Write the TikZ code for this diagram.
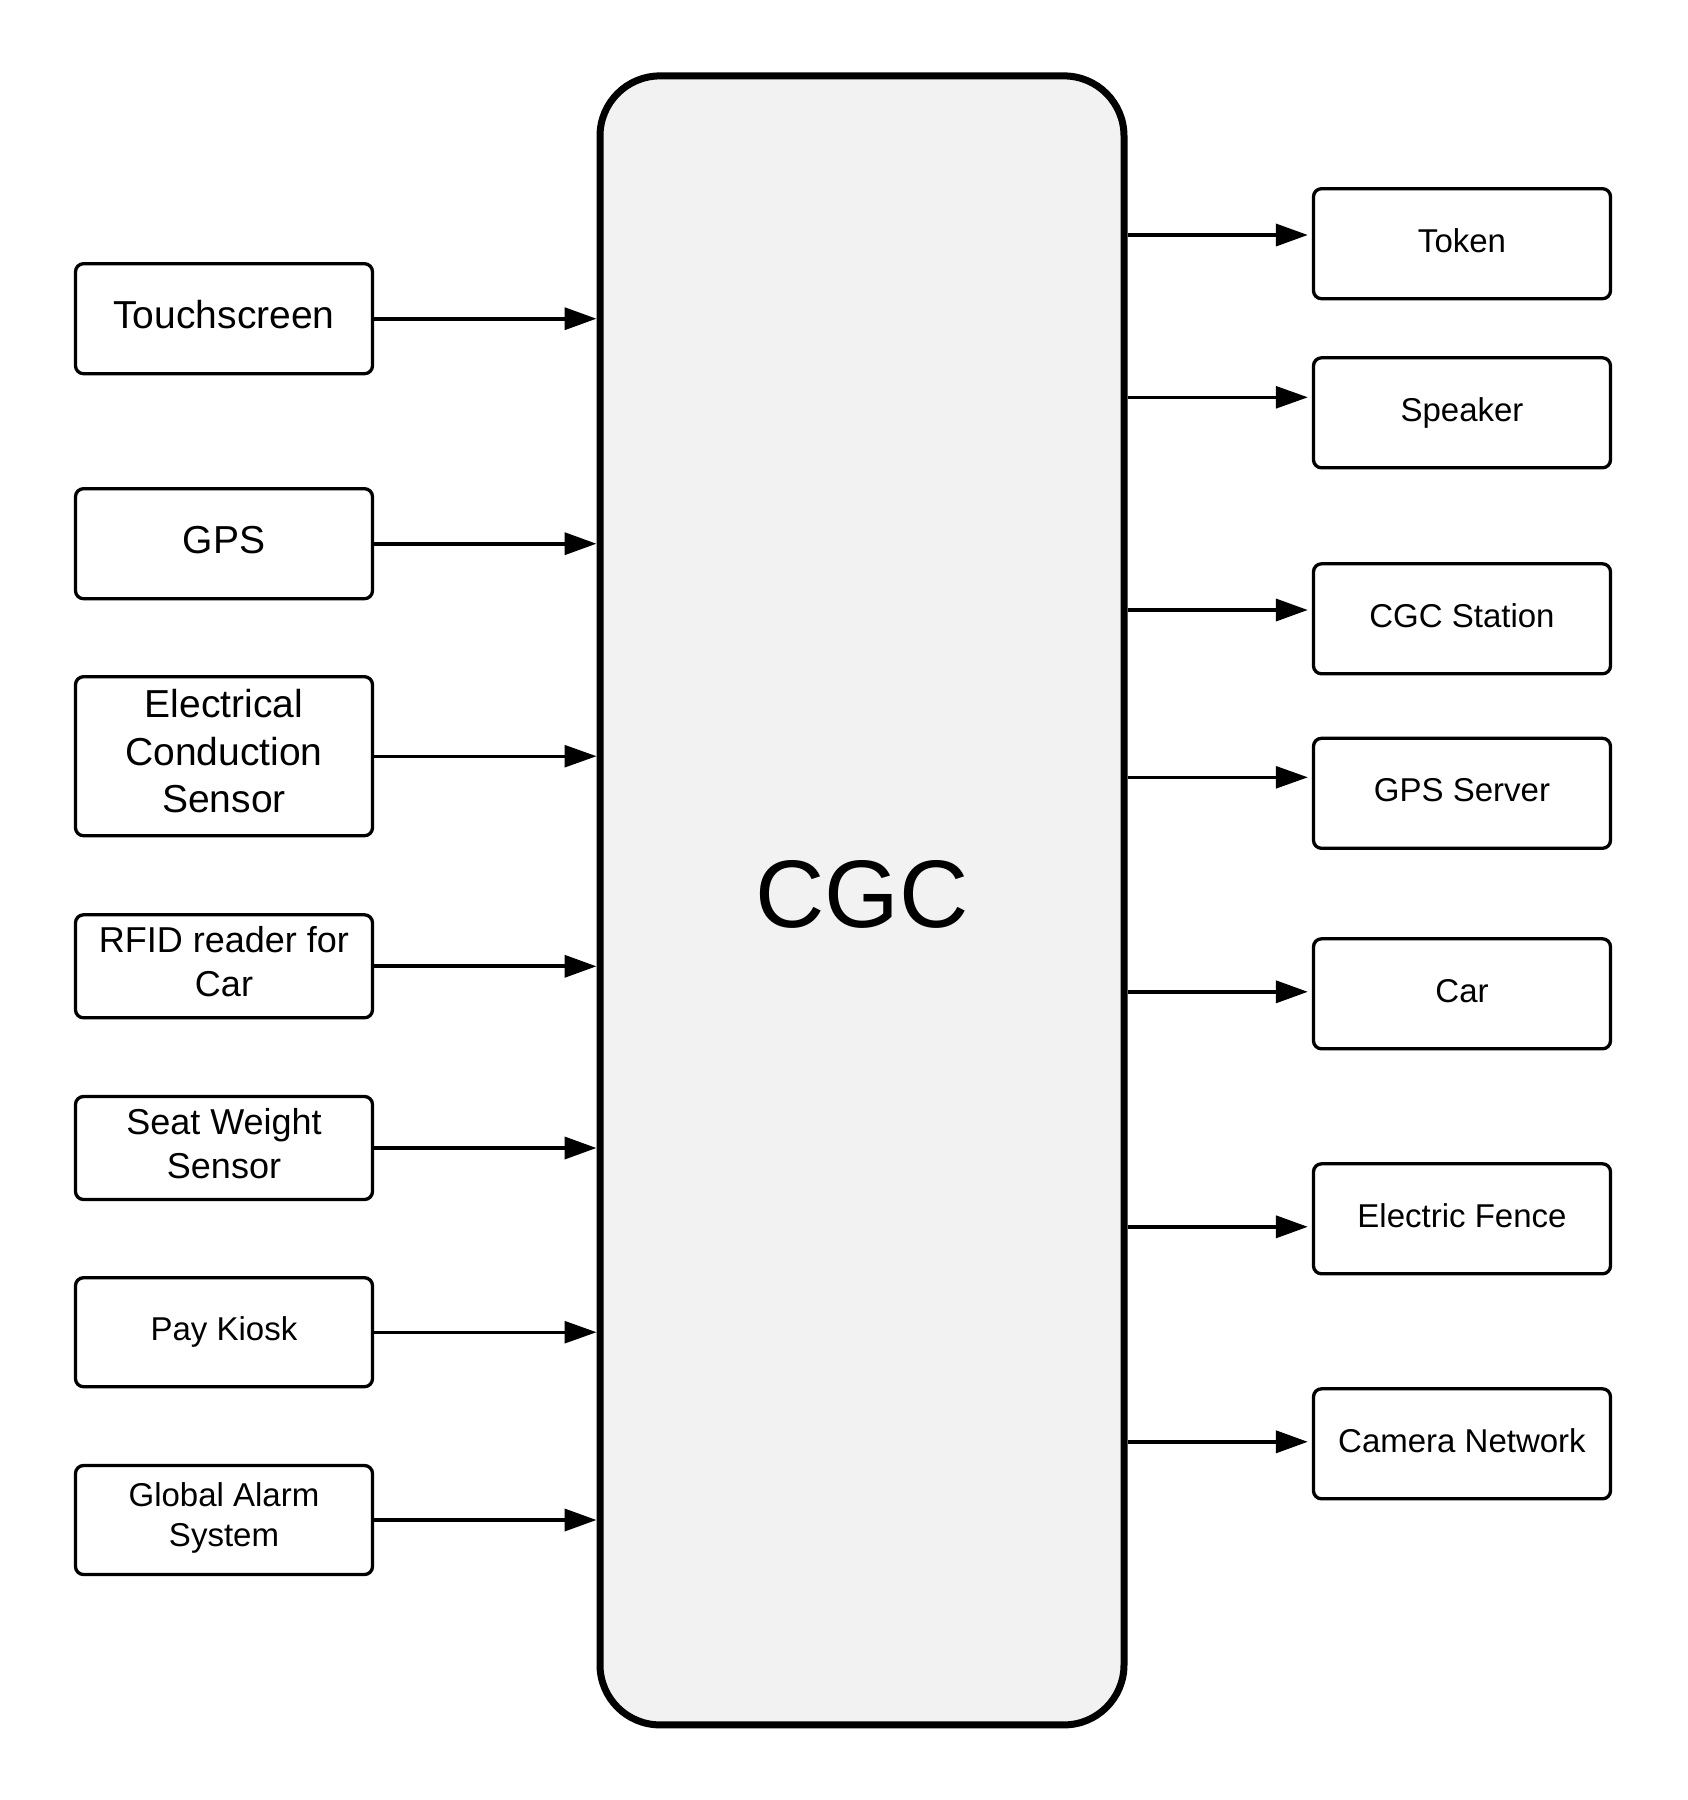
\documentclass[tikz,border=0pt]{standalone}
\usepackage{fontspec}
\setmainfont{Liberation Sans}
\usepackage{xcolor}
\usetikzlibrary{arrows.meta}
\definecolor{corefillc}{HTML}{F2F2F2}
\colorlet{corefill}{corefillc}
\tikzstyle{unitbox} = [
    draw=black,
    line width=3.3pt,
    rounded corners=8pt,
    rectangle,
    minimum width=297pt,
    minimum height=110pt,
    inner sep=0pt,
    align=center
    ]
\tikzstyle{bigone} = [font=\fontsize{39}{47.8}\selectfont, text height=29pt, text depth=10pt]
\tikzstyle{bigmany} = [font=\fontsize{39}{47.8}\selectfont]
\tikzstyle{midmany} = [font=\fontsize{36}{44}\selectfont]
\tikzstyle{smallone} = [font=\fontsize{33}{40}\selectfont, text height=25pt, text depth=8pt]
\tikzstyle{smallmany} = [font=\fontsize{33}{40}\selectfont]
\tikzstyle{corebox} = [
    draw=black,
    fill=corefill,
    line width=7pt,
    rounded corners=60pt,
    rectangle,
    minimum width=524pt,
    minimum height=1649pt,
    inner sep=0pt,
    font=\fontsize{96}{110}\selectfont,
    text depth=12.8pt
    ]
\tikzstyle{flow} = [
    line width=3.7pt,
    -{Triangle[length=32pt,width=22pt]}
    ]

\begin{document}
\begin{tikzpicture}[x=1pt,y=-1pt]
\useasboundingbox (0,0) rectangle (1688,1800);

\node[corebox] (core) at (862,900.4) {CGC};

% inputs
\node[unitbox, bigone] (touch) at (224,318.7) {Touchscreen};
\node[unitbox, bigone] (gps) at (224,543.7) {GPS};
\node[unitbox, bigmany, minimum height=159pt, text depth=10.4pt] (econd) at (224,756.2) {Electrical\\Conduction\\Sensor};
\node[unitbox, midmany, minimum height=103pt, text depth=9.2pt] (rfid) at (224,966.3) {RFID reader for\\Car};
\node[unitbox, midmany, minimum height=103pt, text depth=9.2pt] (seat) at (224,1148) {Seat Weight\\Sensor};
\node[unitbox, smallone, minimum height=109pt] (kiosk) at (224,1332.2) {Pay Kiosk};
\node[unitbox, smallmany, minimum height=109pt, text depth=10.4pt] (alarm) at (224,1520) {Global Alarm\\System};

\draw[flow] (touch.east) -- (touch.east -| core.west);
\draw[flow] (gps.east) -- (gps.east -| core.west);
\draw[flow, line width=2.7pt] (econd.east) -- (econd.east -| core.west);
\draw[flow] (rfid.east) -- (rfid.east -| core.west);
\draw[flow] (seat.east) -- (seat.east -| core.west);
\draw[flow, line width=2.9pt] (kiosk.east) -- (kiosk.east -| core.west);
\draw[flow] (alarm.east) -- (alarm.east -| core.west);

% outputs
\node[unitbox, smallone] (token) at (1462,243.7) {Token};
\node[unitbox, smallone] (speaker) at (1462,412.8) {Speaker};
\node[unitbox, smallone] (station) at (1462,618.8) {CGC Station};
\node[unitbox, smallone] (gpsserver) at (1462,793.3) {GPS Server};
\node[unitbox, smallone] (car) at (1462,993.8) {Car};
\node[unitbox, smallone] (fence) at (1462,1218.8) {Electric Fence};
\node[unitbox, smallone] (camera) at (1462,1443.8) {Camera Network};

\coordinate (tokenin) at ([yshift=8.7pt]token.west);
\coordinate (speakerin) at ([yshift=15.5pt]speaker.west);
\coordinate (stationin) at ([yshift=8.8pt]station.west);
\coordinate (gpsserverin) at ([yshift=16pt]gpsserver.west);
\coordinate (carin) at ([yshift=2pt]car.west);
\coordinate (fencein) at ([yshift=-8pt]fence.west);
\coordinate (camerain) at ([yshift=2pt]camera.west);

\draw[flow, shorten >=4pt] (core.east |- tokenin) -- (tokenin);
\draw[flow, line width=2.7pt, shorten >=4pt] (core.east |- speakerin) -- (speakerin);
\draw[flow, shorten >=4pt] (core.east |- stationin) -- (stationin);
\draw[flow, line width=2.7pt, shorten >=4pt] (core.east |- gpsserverin) -- (gpsserverin);
\draw[flow, shorten >=4pt] (core.east |- carin) -- (carin);
\draw[flow, shorten >=4pt] (core.east |- fencein) -- (fencein);
\draw[flow, shorten >=4pt] (core.east |- camerain) -- (camerain);
\end{tikzpicture}
\end{document}
